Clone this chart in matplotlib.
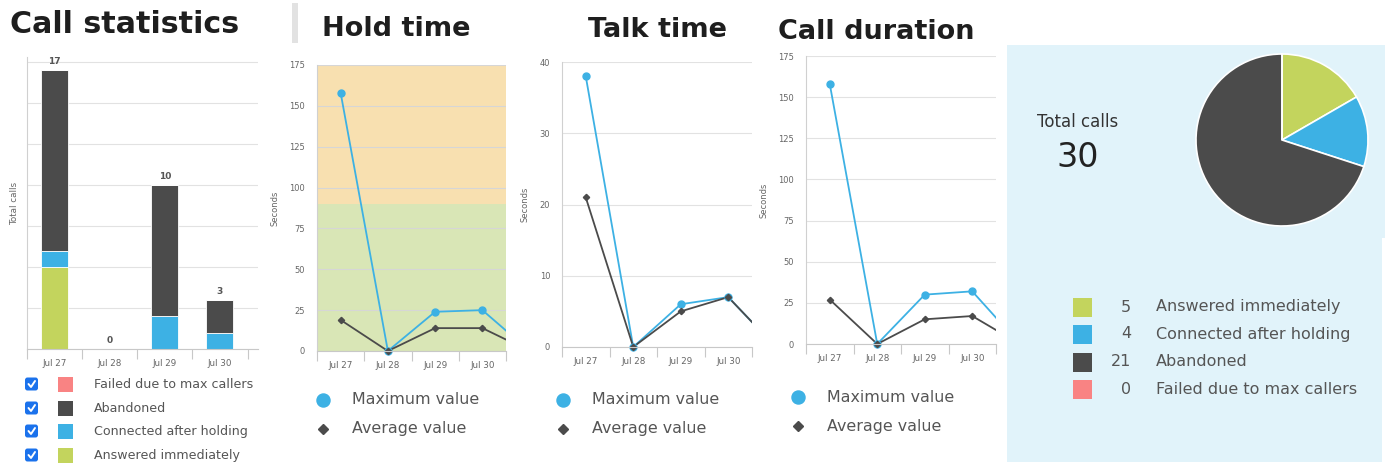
import matplotlib
matplotlib.use("Agg")
import matplotlib.pyplot as plt
from matplotlib.patches import Rectangle, FancyBboxPatch
import numpy as np

W, H = 1389, 463

# --- data ---
dates = ["Jul 27", "Jul 28", "Jul 29", "Jul 30", "Jul 31"]
answered = [5, 0, 0, 0, 0]
connected = [1, 0, 2, 1, 0]
abandoned = [11, 0, 8, 2, 0]
failed = [0, 0, 0, 0, 0]

hold_max = [158, 0, 24, 25, 0]
hold_avg = [19, 0, 14, 14, 0]
talk_max = [38, 0, 6, 7, 0]
talk_avg = [21, 0, 5, 7, 0]
dur_max = [158, 0, 30, 32, 0]
dur_avg = [27, 0, 15, 17, 0]

categories = ["Answered immediately", "Connected after holding", "Abandoned", "Failed due to max callers"]

GREEN = "#c3d45d"
BLUE = "#3db1e4"
DARK = "#4b4b4b"
PINK = "#f98383"
CHECK = "#1b72ec"
TXT = "#555555"
TICK = "#666666"
GRID = "#e2e2e2"
PANEL_BG = "#e1f3fa"
cat_colors = [GREEN, BLUE, DARK, PINK]

fig = plt.figure(figsize=(W / 100, H / 100), dpi=100)


def px_axes(left, top, right, bottom):
    return fig.add_axes([left / W, 1 - bottom / H, (right - left) / W, (bottom - top) / H])


# overlay in pixel coordinates for titles, legends and panel backgrounds
ov = px_axes(0, 0, W, H)
ov.set_xlim(0, W)
ov.set_ylim(H, 0)
ov.axis("off")

ov.add_patch(Rectangle((1007, 45), 378, 193, color=PANEL_BG, lw=0))
ov.add_patch(Rectangle((1007, 236), 375, 226, color=PANEL_BG, lw=0))
ov.add_patch(Rectangle((292, 3), 6, 40, color="#e2e2e2", lw=0))

for tx, ty, s, fs in [(10, 33, "Call statistics", 21.7), (322, 36, "Hold time", 19.5),
                      (588, 37, "Talk time", 19.5), (778, 39, "Call duration", 19.5)]:
    ov.text(tx, ty, s, fontsize=fs, fontweight="bold", color="#1e1e1e", va="baseline")

x = np.arange(len(dates))


def style_xaxis(ax, xmax):
    ax.set_xticks(x)
    ax.set_xticklabels(dates)
    ax.set_xticks(np.arange(-0.5, len(dates), 1), minor=True)
    ax.set_xlim(-0.5, xmax)
    ax.tick_params(axis="x", which="major", length=0, pad=7, labelsize=6.3, labelcolor=TICK)
    ax.tick_params(axis="x", which="minor", length=7, color="#c8c8c8", width=0.8)
    for s in ("top", "right"):
        ax.spines[s].set_visible(False)
    ax.spines["left"].set_color("#d0d0d0")
    ax.spines["bottom"].set_color("#c8c8c8")


# --- Call statistics: stacked bars ---
ax1 = px_axes(27, 57, 258, 349)
stack = np.zeros(len(dates))
for vals, col in zip([answered, connected, abandoned, failed], cat_colors):
    ax1.bar(x, vals, bottom=stack, width=0.49, color=col, edgecolor="white", lw=0.6)
    stack = stack + np.array(vals)
for xi, tot in zip(x, stack):
    ax1.annotate(f"{int(tot)}", (xi, tot), xytext=(0, 3), textcoords="offset points",
                 ha="center", va="bottom", fontsize=6.5, fontweight="bold", color=TXT)
ax1.set_ylim(0, 17.8)
ax1.set_yticks(np.arange(0, 17.6, 2.5))
ax1.tick_params(axis="y", length=0, labelleft=False)
ax1.grid(axis="y", color=GRID, lw=0.8)
ax1.set_axisbelow(True)
ax1.set_ylabel("Total calls", fontsize=6.3, color=TICK, labelpad=6)
style_xaxis(ax1, 3.69)

# legend with checkboxes
lg = px_axes(0, 370, 256, 463)
lg.set_xlim(0, 256)
lg.set_ylim(463, 370)
lg.axis("off")
for row, idx in enumerate([3, 2, 1, 0]):
    cy = [384, 408, 431, 455][row]
    lg.add_patch(FancyBboxPatch((25, cy - 6.5), 13, 13, boxstyle="round,pad=0,rounding_size=2.5",
                                color=CHECK, lw=0, clip_on=True))
    lg.plot([28.5, 31, 35], [cy, cy + 3, cy - 3], color="white", lw=1.4, solid_capstyle="round")
    lg.add_patch(Rectangle((58, cy - 7.5), 15, 15, color=cat_colors[idx], lw=0))
    lg.text(94, cy, categories[idx], fontsize=9.1, color=TXT, va="center", clip_on=True)


# --- line panels ---
def line_panel(left, top, right, bottom, ymax, step, vmax, vavg, bands=False):
    ax = px_axes(left, top, right, bottom)
    if bands:
        ax.axhspan(0, 90, color="#d9e6b6", lw=0, zorder=0.2)
        ax.axhspan(90, ymax, color="#f8e0b0", lw=0, zorder=0.2)
    ax.plot(x, vmax, color=BLUE, lw=1.3)
    ax.plot(x, vavg, color=DARK, lw=1.3)
    vis = x <= 3
    ax.plot(x[vis], np.array(vmax)[vis], ls="none", marker="o", ms=5, color=BLUE, clip_on=False)
    ax.plot(x[vis], np.array(vavg)[vis], ls="none", marker="D", ms=3.2, color=DARK, clip_on=False)
    ax.set_ylim(0, ymax)
    ax.set_yticks(np.arange(0, ymax + 1, step))
    ax.tick_params(axis="y", length=0, pad=8.5, labelsize=6, labelcolor=TICK)
    ax.grid(axis="y", color="#d6d6d6" if bands else GRID, lw=0.8)
    ax.set_axisbelow(True)
    ax.set_ylabel("Seconds", fontsize=6, color=TICK, labelpad=7)
    style_xaxis(ax, 3.5)
    return ax


line_panel(317, 65, 506, 351, 175, 25, hold_max, hold_avg, bands=True)
line_panel(562, 62, 752, 347, 40, 10, talk_max, talk_avg)
line_panel(806, 56, 996, 344, 175, 25, dur_max, dur_avg)

for lx, ly in [(323, 400), (563, 400), (798, 397)]:
    ov.plot([lx], [ly], "o", ms=9.4, color=BLUE)
    ov.plot([lx], [ly + 29], "D", ms=5, color=DARK)
    ov.text(lx + 29, ly, "Maximum value", fontsize=11.4, color=TXT, va="center")
    ov.text(lx + 29, ly + 29, "Average value", fontsize=11.4, color=TXT, va="center")

# --- pie panel ---
totals = [sum(answered), sum(connected), sum(abandoned), sum(failed)]
axp = px_axes(1282 - 86, 140 - 86, 1282 + 86, 140 + 86)
axp.pie(totals, colors=cat_colors, startangle=90, counterclock=False, radius=1,
        wedgeprops=dict(edgecolor="white", linewidth=1.2))
axp.set_xlim(-1, 1)
axp.set_ylim(-1, 1)

ov.text(1078, 127, "Total calls", fontsize=12, color="#333333", ha="center", va="baseline")
ov.text(1078, 167, f"{sum(totals)}", fontsize=24, color="#222222", ha="center", va="baseline")

for row, (lab, val, col) in enumerate(zip(categories, totals, cat_colors)):
    cy = [307, 334, 362, 389][row]
    ov.add_patch(Rectangle((1073, cy - 9.5), 19, 19, color=col, lw=0))
    ov.text(1131, cy, f"{val}", fontsize=11.5, color=TXT, ha="right", va="center")
    ov.text(1156, cy, lab, fontsize=11.5, color=TXT, va="center")

fig.savefig("out.png", dpi=100)
